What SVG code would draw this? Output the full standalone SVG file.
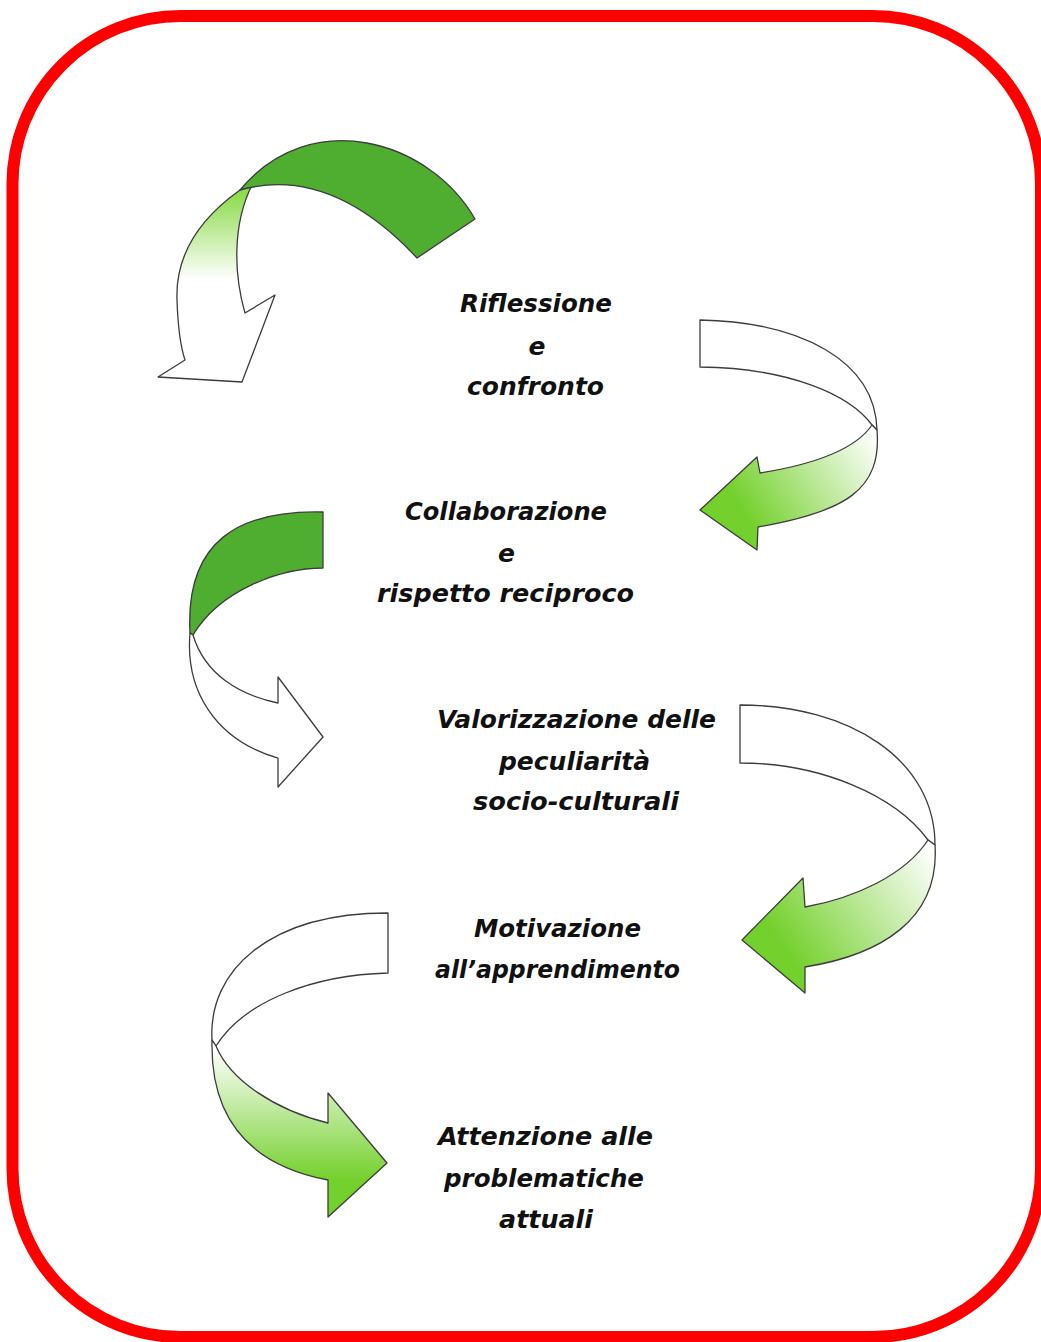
<svg xmlns="http://www.w3.org/2000/svg" width="1041" height="1342" viewBox="0 0 1041 1342">
<style>
.lbl{font-family:"DejaVu Sans","Liberation Sans",sans-serif;font-weight:bold;font-style:italic;font-size:25px;fill:#111111;text-anchor:middle}
.ol{stroke:#3c3c3c;stroke-width:1.3;stroke-linejoin:round}
.dk{fill:#4fae2f}
.wh{fill:#ffffff}
</style>
<defs>
<linearGradient id="g1" gradientUnits="userSpaceOnUse" x1="0" y1="195" x2="0" y2="280"><stop offset="0" stop-color="#8fdc50"/><stop offset="1" stop-color="#ffffff"/></linearGradient>
<linearGradient id="g2" gradientUnits="userSpaceOnUse" x1="872" y1="432" x2="745" y2="515"><stop offset="0" stop-color="#ffffff"/><stop offset="1" stop-color="#74d02c"/></linearGradient>
<linearGradient id="g4" gradientUnits="userSpaceOnUse" x1="930" y1="848" x2="785" y2="950"><stop offset="0" stop-color="#ffffff"/><stop offset="1" stop-color="#74d02c"/></linearGradient>
<linearGradient id="g5" gradientUnits="userSpaceOnUse" x1="0" y1="1048" x2="0" y2="1180"><stop offset="0" stop-color="#ffffff"/><stop offset="1" stop-color="#74d02c"/></linearGradient>
</defs>
<rect x="0" y="0" width="1041" height="1342" fill="#ffffff"/>
<rect id="frame" x="12.5" y="16" width="1028.5" height="1321" rx="168" ry="168" fill="none" stroke="#ff0000" stroke-width="12"/>
<g id="connectors">
<g id="arrow1">
<path class="ol" fill="url(#g1)" d="M240,190 C205,215 175,250 177,300 C178,330 181,348 185,360 L158,377 L242,382 L275,295 L245,313 C234,275 232,225 252,185 Z"/>
<path class="ol dk" d="M475,219 C430,140 310,105 240,190 Q330,165 417,258 Z"/>
</g>
<g id="arrow2">
<path class="ol wh" d="M700,320 L700,367 C790,368 850,395 872,425 L877,430 C875,360 800,322 700,320 Z"/>
<path class="ol" fill="url(#g2)" d="M877,430 C882,490 845,512 758,527 L757,550 L700,510 L757,457 L760,473 C810,465 855,450 872,425 Z"/>
</g>
<g id="arrow3">
<path class="ol dk" d="M323,512 L323,568 C280,568 220,590 193,635 L190,633 C185,540 240,510 323,512 Z"/>
<path class="ol wh" d="M190,633 C185,690 215,740 278,758 L278,787 L323,737 L278,677 L278,703 C240,695 205,675 193,635 Z"/>
</g>
<g id="arrow4">
<path class="ol wh" d="M740,705 L740,763 C820,763 895,795 928,840 L935,845 C935,760 850,705 740,705 Z"/>
<path class="ol" fill="url(#g4)" d="M935,845 C940,920 880,955 805,967 L805,993 L742,940 L803,878 L805,907 C855,898 905,875 928,840 Z"/>
</g>
<g id="arrow5">
<path class="ol wh" d="M388,913 L388,973 C315,975 245,1000 216,1046 L212,1040 C208,970 270,913 388,913 Z"/>
<path class="ol" fill="url(#g5)" d="M212,1040 C210,1120 250,1165 328,1180 L328,1217 L387,1163 L328,1093 L328,1123 C275,1110 230,1080 216,1046 Z"/>
</g>
</g>
<g id="node1">
<text class="lbl" x="536" y="312" textLength="152" lengthAdjust="spacingAndGlyphs">Riflessione</text>
<text class="lbl" x="537" y="355">e</text>
<text class="lbl" x="535.5" y="395" textLength="137" lengthAdjust="spacingAndGlyphs">confronto</text>
</g>
<g id="node2">
<text class="lbl" x="506" y="520" textLength="202" lengthAdjust="spacingAndGlyphs">Collaborazione</text>
<text class="lbl" x="506.5" y="562">e</text>
<text class="lbl" x="505.5" y="602" textLength="257" lengthAdjust="spacingAndGlyphs">rispetto reciproco</text>
</g>
<g id="node3">
<text class="lbl" x="576.5" y="728" textLength="279" lengthAdjust="spacingAndGlyphs">Valorizzazione delle</text>
<text class="lbl" x="574.5" y="770" textLength="151" lengthAdjust="spacingAndGlyphs">peculiarità</text>
<text class="lbl" x="576" y="810" textLength="206" lengthAdjust="spacingAndGlyphs">socio-culturali</text>
</g>
<g id="node4">
<text class="lbl" x="557.5" y="937" textLength="167" lengthAdjust="spacingAndGlyphs">Motivazione</text>
<text class="lbl" x="557.5" y="978" textLength="245" lengthAdjust="spacingAndGlyphs">all’apprendimento</text>
</g>
<g id="node5">
<text class="lbl" x="545.5" y="1145" textLength="215" lengthAdjust="spacingAndGlyphs">Attenzione alle</text>
<text class="lbl" x="544" y="1187" textLength="200" lengthAdjust="spacingAndGlyphs">problematiche</text>
<text class="lbl" x="546" y="1228" textLength="94" lengthAdjust="spacingAndGlyphs">attuali</text>
</g>
</svg>
